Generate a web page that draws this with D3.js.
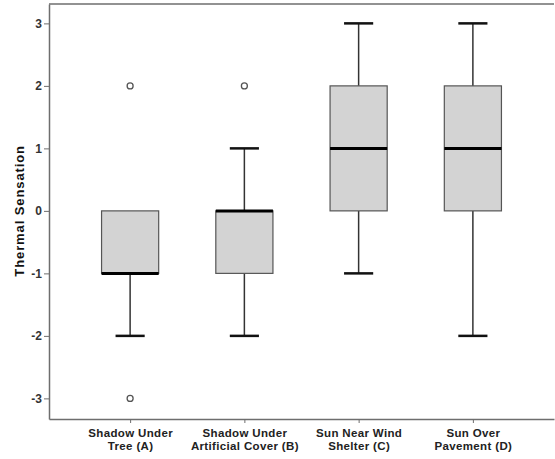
<!DOCTYPE html>
<html><head><meta charset="utf-8">
<script src="https://cdn.jsdelivr.net/npm/d3@7/dist/d3.min.js"></script>
<style>body{margin:0;background:#fff}svg{display:block}</style>
</head><body>
<svg id="c" width="555" height="459"></svg>
<script>
const categories = [["Shadow Under","Tree (A)"],["Shadow Under","Artificial Cover (B)"],["Sun Near Wind","Shelter (C)"],["Sun Over","Pavement (D)"]];
const mins = [-2,-2,-1,-2];
const q1s = [-1,-1,0,0];
const medians = [-1,0,1,1];
const q3s = [0,0,2,2];
const maxs = [0,1,3,3];
const outliers = [[2,-3],[2],[],[]];
const yTicks = [-3,-2,-1,0,1,2,3];
const yTitle = "Thermal Sensation";

const svg = d3.select("#c");
const L=49, R=554, T=4, B=419;
const keys = categories.map((d,i)=>i);
const x = d3.scalePoint().domain(keys).range([L,R]).padding(0.71);
const y = d3.scaleLinear().domain([-3.33,3.31]).range([B,T]);
const bw = x.step()*0.5, cw = x.step()*0.255;
const font = "'Liberation Sans', Arial, sans-serif";

svg.append("line").attr("x1",L).attr("x2",R).attr("y1",T).attr("y2",T).attr("stroke","#6e6e6e").attr("stroke-width",1.5);
const ya = svg.append("g").attr("transform",`translate(${L},0)`).call(d3.axisLeft(y).tickValues(yTicks).tickSize(5).tickSizeOuter(0).tickPadding(2).tickFormat(d=>String(d)));
ya.select(".domain").attr("stroke","#6e6e6e").attr("stroke-width",1.5);
ya.selectAll(".tick line").attr("stroke","#6e6e6e");
ya.selectAll("text").attr("font-family",font).attr("font-size",12).attr("font-weight","bold").attr("fill","#333");
const xa = svg.append("g").attr("transform",`translate(0,${B})`).call(d3.axisBottom(x).tickSize(4).tickSizeOuter(0).tickFormat(""));
xa.select(".domain").attr("stroke","#6e6e6e").attr("stroke-width",1.5);
xa.selectAll(".tick line").attr("stroke","#6e6e6e");
xa.selectAll(".tick").each(function(d){
  const t = d3.select(this).append("text").attr("fill","#222").attr("font-family",font).attr("font-size",11.5).attr("font-weight","bold").attr("letter-spacing",0.35).attr("text-anchor","middle");
  categories[d].forEach((s,j)=>t.append("tspan").attr("x",0).attr("y",18+j*13).text(s));
});

svg.append("text").attr("transform",`translate(24,${y(0)}) rotate(-90)`).attr("text-anchor","middle")
  .attr("font-family",font).attr("font-size",13).attr("font-weight","bold").attr("letter-spacing",0.9).attr("fill","#111").text(yTitle);

const g = svg.append("g");
keys.forEach(i=>{
  const cx = x(i);
  if (maxs[i]>q3s[i]) {
    g.append("line").attr("x1",cx).attr("x2",cx).attr("y1",y(maxs[i])).attr("y2",y(q3s[i])).attr("stroke","#333").attr("stroke-width",1.5);
    g.append("line").attr("x1",cx-cw/2).attr("x2",cx+cw/2).attr("y1",y(maxs[i])).attr("y2",y(maxs[i])).attr("stroke","#111").attr("stroke-width",2.5);
  }
  if (mins[i]<q1s[i]) {
    g.append("line").attr("x1",cx).attr("x2",cx).attr("y1",y(q1s[i])).attr("y2",y(mins[i])).attr("stroke","#333").attr("stroke-width",1.5);
    g.append("line").attr("x1",cx-cw/2).attr("x2",cx+cw/2).attr("y1",y(mins[i])).attr("y2",y(mins[i])).attr("stroke","#111").attr("stroke-width",2.5);
  }
  g.append("rect").attr("x",cx-bw/2).attr("y",y(q3s[i])).attr("width",bw).attr("height",y(q1s[i])-y(q3s[i]))
    .attr("fill","#d3d3d3").attr("stroke","#555").attr("stroke-width",1.2);
  g.append("line").attr("x1",cx-bw/2).attr("x2",cx+bw/2).attr("y1",y(medians[i])).attr("y2",y(medians[i])).attr("stroke","#000").attr("stroke-width",3);
  outliers[i].forEach(v=>{
    g.append("circle").attr("cx",cx).attr("cy",y(v)).attr("r",3).attr("fill","none").attr("stroke","#555").attr("stroke-width",1.3);
  });
});
</script>
</body></html>
